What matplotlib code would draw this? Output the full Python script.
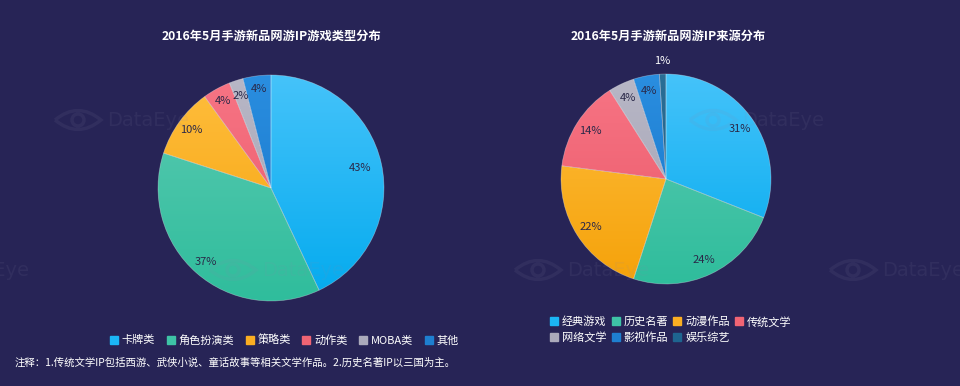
import matplotlib
matplotlib.use("Agg")
import matplotlib.pyplot as plt
import numpy as np
from matplotlib.patches import Circle, PathPatch
from matplotlib.path import Path
from matplotlib.lines import Line2D

plt.rcParams['font.family'] = ['Noto Sans CJK SC', 'DejaVu Sans']

BG = '#272456'

# ---- data ----
title1 = '2016年5月手游新品网游IP游戏类型分布'
cats1 = ['卡牌类', '角色扮演类', '策略类', '动作类', 'MOBA类', '其他']
vals1 = [43, 37, 10, 4, 2, 4]

title2 = '2016年5月手游新品网游IP来源分布'
cats2 = ['经典游戏', '历史名著', '动漫作品', '传统文学', '网络文学', '影视作品', '娱乐综艺']
vals2 = [31, 24, 22, 14, 4, 4, 1]

note = '注释：1.传统文学IP包括西游、武侠小说、童话故事等相关文学作品。2.历史名著IP以三国为主。'

# gradient colour pairs (top, bottom)
grad1 = [('#45C3FA', '#03AAEE'), ('#5CCAB2', '#2FBD9C'), ('#FFBE3E', '#F5A20A'),
         ('#F77585', '#EA5767'), ('#B8B7C6', '#A2A1B2'), ('#2A8EE0', '#1673C6')]
grad2 = [('#45C3FA', '#03AAEE'), ('#5CCAB2', '#2FBD9C'), ('#FFBE3E', '#F5A20A'),
         ('#F77585', '#EA5767'), ('#B8B7C6', '#A2A1B2'), ('#2A8EE0', '#1673C6'),
         ('#2A6E96', '#1B5C84')]
leg1_col = ['#1BB5F5', '#3EC3A6', '#FBAE22', '#F06474', '#ABAABB', '#1E7FD0']
leg2_col = ['#1BB5F5', '#3EC3A6', '#FBAE22', '#F06474', '#ABAABB', '#1E7FD0', '#1E6590']

W, H = 960, 386
fig = plt.figure(figsize=(W / 100, H / 100), dpi=100, facecolor=BG)


def px_axes(cx, cy, r):
    return fig.add_axes([(cx - r) / W, (H - cy - r) / H, 2 * r / W, 2 * r / H])


def draw_pie(cx, cy, r, vals, grads, lab_dist, outside_idx=()):
    ax = px_axes(cx, cy, r)
    ax.set_facecolor('none')
    wedges, _ = ax.pie(vals, startangle=90, counterclock=False, radius=1,
                       wedgeprops=dict(edgecolor=(1, 1, 1, 0.35), linewidth=0.5))
    grad = np.linspace(0, 1, 256).reshape(-1, 1)
    for w, (c1, c2) in zip(wedges, grads):
        w.set_facecolor('none')
        w.set_zorder(3)
        cmap = matplotlib.colors.LinearSegmentedColormap.from_list('g', [c1, c2])
        im = ax.imshow(grad, cmap=cmap, extent=(-1, 1, -1, 1), origin='upper',
                       aspect='auto', zorder=2, interpolation='bilinear')
        im.set_clip_path(w)
    ax.set_xlim(-1, 1)
    ax.set_ylim(-1, 1)
    ax.set_aspect('auto')
    ax.axis('off')
    total = sum(vals)
    for i, (w, v) in enumerate(zip(wedges, vals)):
        ang = np.deg2rad((w.theta1 + w.theta2) / 2)
        d = lab_dist[i] if isinstance(lab_dist, (list, tuple)) else lab_dist
        color = '#2A2848'
        if i in outside_idx:
            d = 1.12
            color = 'white'
        ax.text(d * np.cos(ang), d * np.sin(ang), f'{round(100 * v / total)}%',
                ha='center', va='center', fontsize=8, color=color, zorder=5,
                clip_on=False)
    return ax


draw_pie(271, 188, 113, vals1, grad1, [0.81, 0.87, 0.87, 0.88, 0.86, 0.88])
draw_pie(666, 179, 105, vals2, grad2, 0.85, outside_idx=(6,))

fig.text(271 / W, 1 - 36 / H, title1, ha='center', va='center', fontsize=8.8,
         fontweight='bold', color='white')
fig.text(668 / W, 1 - 36 / H, title2, ha='center', va='center', fontsize=8.8,
         fontweight='bold', color='white')


def handles(cols):
    return [Line2D([0], [0], marker='s', linestyle='none', markersize=5.5,
                   markerfacecolor=c, markeredgecolor=c) for c in cols]


h1 = handles(leg1_col)
fig.legend(h1, cats1, loc='center', bbox_to_anchor=(284 / W, 1 - 340 / H),
           ncol=6, frameon=False, fontsize=8, labelcolor='white',
           handlelength=0.8, handletextpad=0.3, columnspacing=1.0,
           borderaxespad=0)

order = [0, 4, 1, 5, 2, 6, 3]
h2 = handles(leg2_col)
fig.legend([h2[i] for i in order], [cats2[i] for i in order], loc='upper left',
           bbox_to_anchor=(545 / W, 1 - 312 / H), ncol=4, frameon=False,
           fontsize=8, labelcolor='white', handlelength=0.8, handletextpad=0.3,
           columnspacing=0.45, labelspacing=0.45, borderaxespad=0)

fig.text(15 / W, 1 - 363 / H, note, ha='left', va='center', fontsize=7.5,
         color='white')

# watermark overlay
wax = fig.add_axes([0, 0, 1, 1])
wax.set_xlim(0, W)
wax.set_ylim(H, 0)
wax.axis('off')
wax.set_facecolor('none')
wm_col = '#8A8AAA'
wm_alpha = 0.10


def eye_path(cx, cy, w, h):
    verts = [(cx - w / 2, cy), (cx, cy - h), (cx + w / 2, cy),
             (cx, cy + h), (cx - w / 2, cy)]
    codes = [Path.MOVETO, Path.CURVE3, Path.CURVE3, Path.CURVE3, Path.CURVE3]
    return Path(verts, codes)


for (x0, y0) in [(55, 120), (690, 120), (-105, 270), (210, 270), (515, 270), (830, 270)]:
    wax.add_patch(PathPatch(eye_path(x0 + 23, y0, 46, 19), fill=False, lw=2.5,
                            edgecolor=wm_col, alpha=wm_alpha, zorder=10))
    wax.add_patch(Circle((x0 + 23, y0), 6, fill=False, lw=2.5,
                         edgecolor=wm_col, alpha=wm_alpha, zorder=10))
    wax.text(x0 + 52, y0 + 1, 'DataEye', fontsize=14, color=wm_col,
             alpha=wm_alpha, ha='left', va='center', zorder=10,
             family='DejaVu Sans')

fig.savefig('out.png', dpi=100, facecolor=BG)
